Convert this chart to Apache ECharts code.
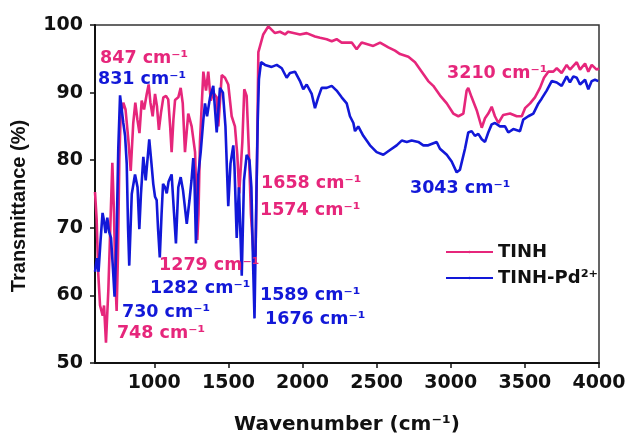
<!DOCTYPE html>
<html>
<head>
<meta charset="utf-8">
<script src="https://cdn.jsdelivr.net/npm/echarts@6/dist/echarts.min.js"></script>
<style>
  html, body { margin: 0; padding: 0; background: #fff; }
  #chart { width: 629px; height: 440px; }
</style>
</head>
<body>
<div id="chart"></div>
<script>
// FT-IR spectra: wavenumber (cm-1) vs transmittance (%)
const tinhWavenumber = [
  600, 611, 622, 634, 652, 661, 674, 690, 706, 717, 728, 738, 746, 755, 764, 773,
  791, 806, 825, 841, 858, 872, 886, 900, 915, 931, 949, 962, 974, 989, 1005, 1018,
  1031, 1045, 1061, 1079, 1094, 1107, 1117, 1129, 1140, 1162, 1178, 1192, 1207, 1229,
  1252, 1275, 1283, 1290, 1298, 1308, 1331, 1349, 1364, 1381, 1397, 1421, 1432, 1455,
  1477, 1499, 1522, 1544, 1560, 1573, 1594, 1607, 1623, 1637, 1652, 1669, 1683, 1693,
  1702, 1735, 1769, 1781, 1814, 1848, 1882, 1902, 1983, 2028, 2084, 2118, 2163, 2197,
  2230, 2264, 2332, 2365, 2399, 2477, 2523, 2579, 2624, 2658, 2714, 2759, 2804, 2848,
  2882, 2927, 2973, 3017, 3051, 3085, 3107, 3118, 3141, 3175, 3209, 3231, 3253, 3276,
  3298, 3321, 3354, 3400, 3445, 3479, 3501, 3535, 3568, 3602, 3629, 3658, 3692, 3715,
  3748, 3782, 3804, 3850, 3872, 3906, 3928, 3951, 3984, 4000
];
const tinhTransmittance = [
  75.3, 71.3, 63.2, 58.5, 57.0, 58.5, 53.0, 60.8, 72.0, 79.6, 72.2, 62.0, 57.7, 66.0, 80.0, 86.5,
  88.5, 87.5, 83.0, 78.4, 85.5, 88.5, 86.0, 84.0, 88.8, 87.5, 89.8, 91.2, 88.5, 86.5, 89.8, 88.0,
  84.5, 87.0, 89.3, 89.5, 89.0, 85.0, 81.2, 86.0, 88.9, 89.3, 90.7, 88.4, 81.2, 86.9,
  85.0, 81.2, 75.0, 68.2, 72.0, 82.7, 93.1, 90.3, 93.1, 88.8, 90.0, 89.3, 85.0, 92.6,
  92.2, 91.2, 86.5, 85.0, 80.8, 75.1, 82.7, 90.5, 89.5, 82.0, 72.0, 66.0, 65.8, 80.0,
  96.0, 98.6, 99.8, 99.8, 98.8, 99.0, 98.6, 99.0, 98.6, 98.8, 98.3, 98.1, 97.9, 97.6,
  97.9, 97.4, 97.4, 96.4, 97.4, 96.9, 97.4, 96.7, 96.2, 95.7, 95.3, 94.5, 93.1, 91.7,
  91.0, 89.6, 88.4, 86.9, 86.5, 86.9, 90.3, 90.7, 89.3, 87.4, 84.8, 86.2, 86.9, 87.9,
  86.5, 85.5, 86.7, 86.9, 86.5, 86.5, 87.7, 88.4, 89.3, 90.7, 92.2, 93.1, 93.1, 93.6,
  92.9, 94.1, 93.4, 94.5, 93.4, 94.3, 93.1, 94.1, 93.4, 93.6
];

const pdWavenumber = [
  600, 613, 624, 637, 651, 661, 671, 683, 694, 708, 721, 732, 745, 757, 769, 791,
  803, 814, 823, 831, 848, 870, 887, 899, 910, 926, 942, 966, 981, 993, 1005, 1016,
  1025, 1037, 1049, 1059, 1072, 1084, 1096, 1117, 1133, 1146, 1162, 1178, 1194, 1219,
  1237, 1251, 1263, 1271, 1281, 1297, 1313, 1331, 1342, 1356, 1376, 1398, 1421, 1443,
  1463, 1480, 1499, 1514, 1533, 1541, 1556, 1571, 1590, 1605, 1623, 1642, 1655, 1666,
  1676, 1689, 1698, 1706, 1720, 1747, 1792, 1826, 1860, 1893, 1915, 1949, 1983, 2005,
  2028, 2062, 2084, 2106, 2129, 2163, 2197, 2230, 2264, 2298, 2320, 2343, 2354, 2376,
  2410, 2455, 2500, 2545, 2590, 2635, 2669, 2703, 2736, 2781, 2815, 2848, 2905, 2927,
  2973, 3006, 3040, 3062, 3096, 3118, 3141, 3163, 3186, 3209, 3231, 3253, 3276, 3298,
  3332, 3366, 3388, 3422, 3467, 3489, 3523, 3557, 3591, 3613, 3647, 3681, 3715, 3748,
  3782, 3804, 3827, 3850, 3872, 3906, 3928, 3951, 3973, 3995
];
const pdTransmittance = [
  63.5, 65.5, 63.5, 68.0, 72.2, 71.0, 69.2, 71.5, 69.5, 68.5, 64.0, 59.8, 68.0, 81.7, 89.6, 85.5,
  83.6, 79.5, 70.0, 64.4, 75.0, 77.9, 76.0, 69.8, 75.0, 80.5, 77.0, 83.1, 79.5, 76.5, 74.6, 74.1,
  70.0, 65.6, 72.0, 76.5, 76.0, 75.1, 76.8, 77.9, 72.2, 67.7, 76.0, 77.5, 75.5, 70.6,
  74.0, 77.0, 80.3, 77.0, 67.7, 77.9, 81.2, 86.0, 88.4, 86.5, 89.3, 91.0, 84.1, 90.7,
  90.0, 85.0, 73.2, 79.5, 82.2, 79.0, 68.5, 76.0, 62.9, 77.0, 80.8, 80.0, 76.0, 65.0,
  56.6, 75.0, 86.0, 92.0, 94.5, 94.1, 93.8, 94.1, 93.6, 92.2, 92.9, 93.1, 91.7, 90.5,
  91.2, 89.8, 87.7, 89.3, 90.7, 90.7, 91.0, 90.3, 89.3, 88.4, 86.5, 85.5, 84.3, 85.0,
  83.6, 82.2, 81.2, 80.8, 81.5, 82.2, 82.9, 82.7, 82.9, 82.7, 82.2, 82.2, 82.7, 81.7,
  80.8, 79.8, 78.2, 78.6, 81.7, 84.1, 84.3, 83.6, 83.9, 83.1, 82.7, 84.1, 85.3, 85.5,
  85.0, 85.0, 84.1, 84.6, 84.3, 86.0, 86.5, 86.9, 88.4, 89.1, 90.3, 91.7, 91.5, 91.0,
  92.4, 91.5, 92.4, 92.2, 91.2, 91.9, 90.5, 91.7, 91.9, 91.7
];

const seriesNames = ['TINH', 'TINH-Pd²⁺'];
const xTicks = [1000, 1500, 2000, 2500, 3000, 3500, 4000];

// band labels: text, then the point (wavenumber, %T) where the text starts
const tinhNotes = [
  ['847 cm⁻¹', 634, 95.0],
  ['1658 cm⁻¹', 1720, 76.6],
  ['1574 cm⁻¹', 1713, 72.5],
  ['1279 cm⁻¹', 1032, 64.4],
  ['748 cm⁻¹', 748, 54.4],
  ['3210 cm⁻¹', 2975, 92.9]
];
const pdNotes = [
  ['831 cm⁻¹', 620, 91.9],
  ['1282 cm⁻¹', 971, 61.1],
  ['730 cm⁻¹', 782, 57.5],
  ['1589 cm⁻¹', 1713, 60.0],
  ['1676 cm⁻¹', 1747, 56.4],
  ['3043 cm⁻¹', 2725, 75.8]
];

const PINK = '#E6267B';
const BLUE = '#1218D8';
const INK = '#111111';
const BOLD_FONT = 'DejaVu Sans';

function pairs(xs, ys) { return xs.map((x, i) => [x, ys[i]]); }

function notePoints(notes, color) {
  return {
    symbol: 'circle',
    symbolSize: 1,
    itemStyle: { color: 'rgba(0,0,0,0)' },
    label: {
      show: true,
      position: 'inside',
      align: 'left',
      verticalAlign: 'middle',
      formatter: '{b}',
      color: color,
      fontFamily: BOLD_FONT,
      fontWeight: 'bold',
      fontSize: 17.5
    },
    data: notes.map(n => ({ name: n[0], coord: [n[1], n[2]] }))
  };
}

const chart = echarts.init(document.getElementById('chart'), null, { renderer: 'canvas' });

chart.setOption({
  animation: false,
  backgroundColor: '#ffffff',
  grid: {
    left: 95, right: 30, top: 25, bottom: 64,
    show: true, borderColor: '#333333', borderWidth: 1.5
  },
  legend: {
    orient: 'vertical',
    left: 440,
    top: 238,
    itemWidth: 47,
    itemHeight: 3,
    itemGap: 8,
    data: seriesNames,
    textStyle: { color: INK, fontFamily: BOLD_FONT, fontWeight: 'bold', fontSize: 18 }
  },
  xAxis: {
    type: 'value',
    min: 600,
    max: 4000,
    name: 'Wavenumber (cm⁻¹)',
    nameLocation: 'middle',
    nameGap: 52,
    nameTextStyle: { color: INK, fontFamily: BOLD_FONT, fontWeight: 'bold', fontSize: 20 },
    axisLine: { show: true, onZero: false, lineStyle: { color: INK, width: 2 } },
    axisTick: { show: true, length: 5, customValues: xTicks, lineStyle: { color: INK, width: 1.5 } },
    axisLabel: {
      customValues: xTicks, margin: 11, color: INK,
      fontFamily: BOLD_FONT, fontWeight: 'bold', fontSize: 19,
      formatter: v => String(v)
    },
    splitLine: { show: false }
  },
  yAxis: {
    type: 'value',
    min: 50,
    max: 100,
    interval: 10,
    name: 'Transmittance (%)',
    nameLocation: 'middle',
    nameGap: 66,
    nameRotate: 90,
    nameTextStyle: { color: INK, fontFamily: 'Liberation Sans', fontWeight: 'bold', fontSize: 20, padding: [0, 24, 0, 0] },
    axisLine: { show: true, onZero: false, lineStyle: { color: INK, width: 2 } },
    axisTick: { show: true, length: 5, lineStyle: { color: INK, width: 1.5 } },
    axisLabel: {
      margin: 12, color: INK, fontFamily: BOLD_FONT, fontWeight: 'bold', fontSize: 19,
      formatter: v => String(v)
    },
    splitLine: { show: false }
  },
  series: [
    {
      name: seriesNames[0],
      type: 'line',
      symbol: 'none',
      data: pairs(tinhWavenumber, tinhTransmittance),
      lineStyle: { color: PINK, width: 2.6 },
      itemStyle: { color: PINK },
      markPoint: notePoints(tinhNotes, PINK),
      z: 2
    },
    {
      name: seriesNames[1],
      type: 'line',
      symbol: 'none',
      data: pairs(pdWavenumber, pdTransmittance),
      lineStyle: { color: BLUE, width: 2.6 },
      itemStyle: { color: BLUE },
      markPoint: notePoints(pdNotes, BLUE),
      z: 3
    }
  ]
});
</script>
</body>
</html>
